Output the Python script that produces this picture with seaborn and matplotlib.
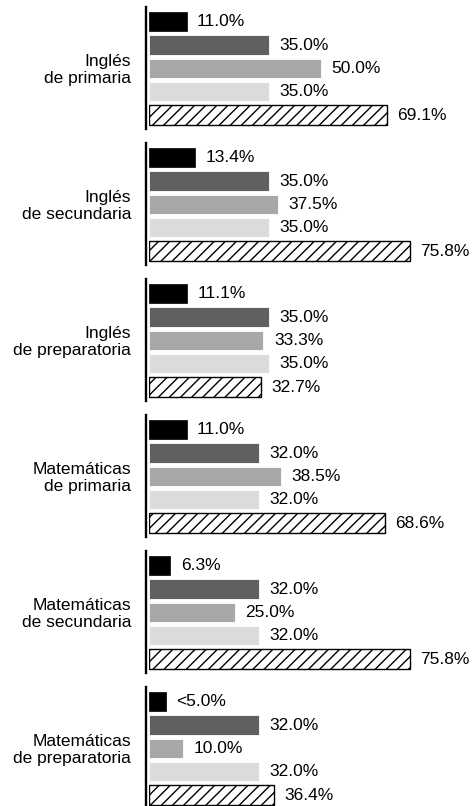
import numpy as np
import pandas as pd
import matplotlib.pyplot as plt
import seaborn as sns

# Datos
grupos = ["Inglés\nde primaria", "Inglés\nde secundaria", "Inglés\nde preparatoria",
          "Matemáticas\nde primaria", "Matemáticas\nde secundaria", "Matemáticas\nde preparatoria"]
series = ["Serie 1", "Serie 2", "Serie 3", "Serie 4", "Serie 5"]
serie1 = [11.0, 13.4, 11.1, 11.0, 6.3, 5.0]
serie2 = [35.0, 35.0, 35.0, 32.0, 32.0, 32.0]
serie3 = [50.0, 37.5, 33.3, 38.5, 25.0, 10.0]
serie4 = [35.0, 35.0, 35.0, 32.0, 32.0, 32.0]
serie5 = [69.1, 75.8, 32.7, 68.6, 75.8, 36.4]
etiquetas_serie1 = ["11.0%", "13.4%", "11.1%", "11.0%", "6.3%", "<5.0%"]

colores = ["#000000", "#606060", "#a8a8a8", "#dcdcdc", "#ffffff"]

sns.set_style("white")
plt.rcParams["font.family"] = ["Liberation Sans", "DejaVu Sans"]
plt.rcParams["hatch.linewidth"] = 1.0
plt.rcParams["text.color"] = "black"

W, H = 476, 806
fig = plt.figure(figsize=(W / 100, H / 100), dpi=100)

x0 = 148.7          # pixel del valor 0
escala = 3.447      # px por unidad
alto = 121.7
paso = 136
fs = 12.5

for i, grupo in enumerate(grupos):
    top = 7.3 + paso * i
    ax = fig.add_axes([x0 / W, 1 - (top + alto) / H, (W - x0) / W, alto / H])
    vals = [serie1[i], serie2[i], serie3[i], serie4[i], serie5[i]]
    df = pd.DataFrame({"serie": series, "valor": vals})
    sns.barplot(data=df, x="valor", y="serie", hue="serie", palette=colores,
                order=series, hue_order=series, orient="h", width=0.83,
                legend=False, ax=ax)

    for j, cont in enumerate(ax.containers):
        for p in cont.patches:
            if j == 0:
                p.set_edgecolor("black")
                p.set_linewidth(0.5)
            elif j == 4:
                p.set_facecolor("white")
                p.set_edgecolor("black")
                p.set_linewidth(1.0)
                p.set_hatch("///")
            else:
                p.set_edgecolor("white")
                p.set_linewidth(0.6)
        lab = etiquetas_serie1[i] if j == 0 else f"{vals[j]:.1f}%"
        ax.bar_label(cont, labels=[lab], padding=7.5, fontsize=fs, color="black")

    ax.set_xlim(0, (W - x0) / escala)
    ax.set_ylim(4.6, -0.62)
    ax.set_xticks([])
    ax.set_yticks([])
    ax.set_xlabel("")
    ax.set_ylabel("")
    for s in ["top", "right", "bottom"]:
        ax.spines[s].set_visible(False)
    ax.spines["left"].set_position(("outward", 1.6))
    ax.spines["left"].set_linewidth(1.7)
    ax.spines["left"].set_color("black")
    ax.patch.set_alpha(0)

    ax.text(-0.054, 0.484, grupo, transform=ax.transAxes, ha="right", va="center",
            fontsize=fs, linespacing=1.15, color="black")

fig.savefig("out.png", dpi=100)
